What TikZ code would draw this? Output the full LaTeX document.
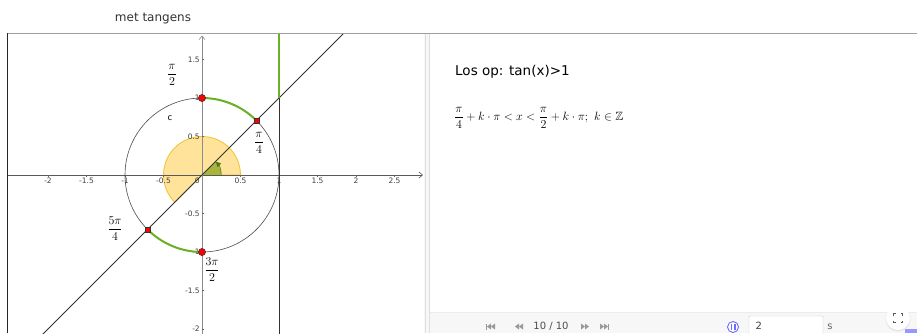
\documentclass[tikz,border=0pt]{standalone}
\usepackage{amsmath,amssymb}
\usepackage{fontspec}
\newfontfamily\ui{DejaVu Sans}
\usetikzlibrary{arrows.meta}
\definecolor{ggreen}{HTML}{6AB023}
\definecolor{gyellow}{HTML}{FFE39A}
\definecolor{gyellowd}{HTML}{F2C230}
\definecolor{golive}{HTML}{A9B43C}
\definecolor{gred}{HTML}{FF0000}
\definecolor{gblue}{HTML}{6B6BFF}
\tikzset{
  ticklab/.style={font=\ui\fontsize{7.5}{9}\selectfont, text=black!75, inner sep=0.5pt},
  anglab/.style={font=\fontsize{13}{15}\selectfont, inner sep=0pt},
  redpt/.style={fill=gred, draw=black!80, line width=0.5pt},
  greenarc/.style={draw=ggreen, line width=2pt},
  axis/.style={draw=black!65, line width=0.6pt, -{Straight Barb[length=3.5pt,width=6pt]}},
  ctrl/.style={fill=black!40},
}
\begin{document}
\begin{tikzpicture}[x=1pt,y=-1pt]
\useasboundingbox (0,0) rectangle (917,333);
\fill[white] (0,0) rectangle (917,333);
\node[font=\ui\fontsize{12}{14}\selectfont, text=black!80] (title) at (153,19) {met tangens};
% panel frame
\fill[gray!6] (424,34) rectangle (430,333);
\draw[gray!25, line width=0.6pt] (425,34) -- (425,333) (429,34) -- (429,333);
\fill[gray!6] (430,312) rectangle (917,333);
\draw[gray!15] (430,312) -- (917,312);
% graph
\begin{scope}[shift={(202,175)}, x=77pt, y=77pt]
  \begin{scope}
  \clip (-2.53,-2.06) rectangle (2.88,1.84);
  % yellow sector
  \filldraw[fill=gyellow, draw=gyellowd, line width=0.8pt] (0,0) -- (0.5,0) arc[start angle=0, end angle=225, radius=0.5] -- cycle;
  % olive small sector
  \fill[golive] (0,0) -- (0.25,0) arc[start angle=0, end angle=45, radius=0.25] -- cycle;
  \draw[ggreen!70!black, line width=0.6pt, -{Triangle[length=5pt,width=5pt]}] (0.25,0) arc[start angle=0, end angle=44, radius=0.25];
  % axes
  \draw[axis] (-2.6,0) -- (2.87,0);
  \draw[axis, draw=black!45] (0,-2.1) -- (0,1.81);
  \foreach \t in {-2,-1.5,-1,-0.5,0.5,1,1.5,2,2.5} {
    \draw[black!60, line width=0.4pt] (\t,0) -- (\t,-0.03);
  }
  \foreach \t in {-2,-1.5,-1,-0.5,0.5,1,1.5} {
    \draw[black!60, line width=0.4pt] (0,\t) -- (0.03,\t);
  }
  \foreach \t/\l in {-2/-2,-1.5/-1.5,-1/-1,-0.5/-0.5,0.5/0.5,1/1,1.5/1.5,2/2,2.5/2.5} {
    \node[ticklab, anchor=north] (xl\l) at (\t,-0.035) {\l};
  }
  \node[ticklab, anchor=north] (xl0) at (-0.06,-0.035) {0};
  \foreach \t/\l in {-2/-2,-1.5/-1.5,-1/-1,-0.5/-0.5,0.5/0.5,1/1,1.5/1.5} {
    \node[ticklab, anchor=east] (yl\l) at (-0.02,\t) {\l};
  }
  % unit circle
  \draw[black!70, line width=0.6pt] (0,0) circle[radius=1];
  % green arcs
  \draw[greenarc] (45:1) arc[start angle=45, end angle=90, radius=1];
  \draw[greenarc] (225:1) arc[start angle=225, end angle=270, radius=1];
  % lines
  \draw[black!80, line width=1pt] (-2.2,-2.2) -- (2,2);
  \draw[black!80, line width=1pt] (1,-2.2) -- (1,2);
  \draw[ggreen, line width=2.2pt] (1,1) -- (1,2);
  \end{scope}
  % points
  \coordinate (P90) at (0,1);
  \coordinate (P45) at (45:1);
  \coordinate (P225) at (225:1);
  \coordinate (P270) at (0,-1);
  \filldraw[redpt] (P90) circle[radius=3.6pt];
  \filldraw[redpt] (P270) circle[radius=3.6pt];
  \filldraw[redpt] ([shift={(-2.5pt,-2.5pt)}]P45) rectangle ([shift={(2.5pt,2.5pt)}]P45);
  \filldraw[redpt] ([shift={(-2.5pt,-2.5pt)}]P225) rectangle ([shift={(2.5pt,2.5pt)}]P225);
  % labels
  \node[anglab] (lpi2) at (-0.39,1.30) {$\dfrac{\pi}{2}$};
  \node[font=\ui\fontsize{8.5}{10}\selectfont] (lc) at (-0.415,0.74) {c};
  \node[anglab] (lpi4) at (0.74,0.415) {$\dfrac{\pi}{4}$};
  \node[anglab] (l5pi4) at (-1.13,-0.70) {$\dfrac{5\pi}{4}$};
  \node[anglab] (l3pi2) at (0.13,-1.23) {$\dfrac{3\pi}{2}$};
\end{scope}
% top and left borders
\draw[gray!75, line width=1.3pt] (7,33.5) -- (917,33.5);
\draw[black!85, line width=1.2pt] (7.5,33) -- (7.5,333);
% right panel text
\node[font=\ui\fontsize{13.5}{16}\selectfont, anchor=west, inner sep=0pt] (los) at (455,72) {Los op: tan(x)>1};
\node[font=\fontsize{12}{14}\selectfont, anchor=west, inner sep=0pt] (form) at (454,118)
  {$\dfrac{\pi}{4}+k\cdot\pi<x<\dfrac{\pi}{2}+k\cdot\pi;\ k\in\mathbb{Z}$};
% animation controls
\fill[ctrl] (486,323.5) rectangle (487,329.5);
\fill[ctrl] (487,326.5) -- (491,323.5) -- (491,329.5) -- cycle;
\fill[ctrl] (491,326.5) -- (495,323.5) -- (495,329.5) -- cycle;
\fill[ctrl] (515,326.5) -- (519,323.5) -- (519,329.5) -- cycle;
\fill[ctrl] (519,326.5) -- (523,323.5) -- (523,329.5) -- cycle;
\node[font=\ui\fontsize{10}{12}\selectfont, text=black!70] (frame) at (551,326) {10 / 10};
\fill[ctrl] (585,326.5) -- (581,323.5) -- (581,329.5) -- cycle;
\fill[ctrl] (589,326.5) -- (585,323.5) -- (585,329.5) -- cycle;
\fill[ctrl] (604,326.5) -- (600,323.5) -- (600,329.5) -- cycle;
\fill[ctrl] (608,326.5) -- (604,323.5) -- (604,329.5) -- cycle;
\fill[ctrl] (608,323.5) rectangle (609,329.5);
% pause button
\draw[gblue, line width=0.9pt, fill=white] (733,327) circle[radius=5.5];
\fill[gblue] (730.5,324) rectangle (732.2,330);
\fill[gblue] (733.8,324) rectangle (735.5,330);
% speed box
\draw[gray!40, fill=white, rounded corners=1pt] (749,316) rectangle (823,336);
\node[font=\ui\fontsize{10}{12}\selectfont, text=black!75, anchor=west] (speed) at (752,326) {2};
\node[font=\ui\fontsize{10}{12}\selectfont, text=black!60] (unit) at (830,327) {s};
% fullscreen button
\fill[gray!20] (898,319) circle[radius=12.5];
\fill[white] (898,318) circle[radius=12];
\begin{scope}[black!65, line width=0.8pt]
\draw (893.5,315.5) -- (893.5,313.5) -- (895.5,313.5);
\draw (900.5,313.5) -- (902.5,313.5) -- (902.5,315.5);
\draw (893.5,320.5) -- (893.5,322.5) -- (895.5,322.5);
\draw (900.5,322.5) -- (902.5,322.5) -- (902.5,320.5);
\end{scope}
\fill[gblue!70] (905,329) rectangle (917,333);
\end{tikzpicture}
\end{document}
